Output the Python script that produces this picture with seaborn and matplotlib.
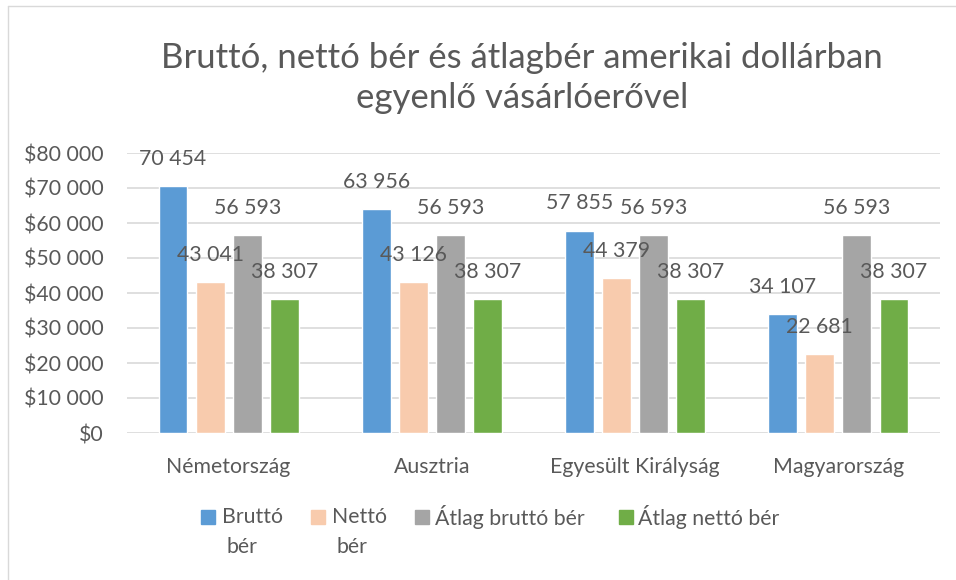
import matplotlib.pyplot as plt
import matplotlib.patches as mpatches
import matplotlib.lines as mlines
import seaborn as sns
import pandas as pd

# Chart data
countries = ["Németország", "Ausztria", "Egyesült Királyság", "Magyarország"]
series_names = ["Bruttó bér", "Nettó bér", "Átlag bruttó bér", "Átlag nettó bér"]
brutto = [70454, 63956, 57855, 34107]
netto = [43041, 43126, 44379, 22681]
atlag_brutto = [56593, 56593, 56593, 56593]
atlag_netto = [38307, 38307, 38307, 38307]
legend_labels = ["Bruttó\nbér", "Nettó\nbér", "Átlag bruttó bér", "Átlag nettó bér"]
title_text = "Bruttó, nettó bér és átlagbér amerikai dollárban\negyenlő vásárlóerővel"
yticks = [0, 10000, 20000, 30000, 40000, 50000, 60000, 70000, 80000]

colors = ["#5B9BD5", "#F8CBAD", "#A5A5A5", "#70AD47"]
text_color = "#595959"
grid_color = "#D9D9D9"
fs = 15.3

rows = []
for name, vals in zip(series_names, [brutto, netto, atlag_brutto, atlag_netto]):
    for c, v in zip(countries, vals):
        rows.append({"country": c, "series": name, "value": v})
df = pd.DataFrame(rows)

sns.set_theme(style="white")
plt.rcParams["font.family"] = ["Lato", "DejaVu Sans"]

fig = plt.figure(figsize=(9.56, 5.8), dpi=100)
ax = fig.add_axes([127 / 956, 1 - 433 / 580, (940 - 127) / 956, (433 - 153) / 580])

sns.barplot(data=df, x="country", y="value", hue="series", order=countries,
            hue_order=series_names, palette=colors, width=0.73, gap=0.22,
            saturation=1, legend=False, ax=ax)

ax.set_ylim(0, 80000)
ax.set_yticks(yticks)
ax.set_yticklabels(["$0" if t == 0 else "$" + f"{t:,}".replace(",", " ") for t in yticks])
ax.set_xlabel("")
ax.set_ylabel("")
ax.grid(axis="y", color=grid_color, linewidth=1.2)
ax.set_axisbelow(True)
for s in ax.spines.values():
    s.set_visible(False)
ax.tick_params(axis="y", length=0, pad=17, labelsize=fs, labelcolor=text_color)
ax.tick_params(axis="x", length=0, pad=17, labelsize=fs, labelcolor=text_color)

# data labels above bars
for cont in ax.containers:
    for bar in cont:
        h = bar.get_height()
        ax.annotate(f"{int(h):,}".replace(",", " "),
                    (bar.get_x() + bar.get_width() / 2, h),
                    xytext=(0, 19.5), textcoords="offset points",
                    ha="center", va="center", fontsize=fs, color=text_color)

fig.text(522 / 956, 1 - 78 / 580, title_text, ha="center", va="center",
         fontsize=25, color=text_color, linespacing=1.3)

# legend (wrapped like the original)
sq_w = 14 / 956
sq_h = 14 / 580
leg_items = [(201, 222), (311, 332), (415, 435), (619, 638)]
for (sx, tx), col, lab in zip(leg_items, colors, legend_labels):
    fig.add_artist(mpatches.Rectangle((sx / 956, 1 - 524 / 580), sq_w, sq_h,
                                      transform=fig.transFigure, color=col))
    lines = lab.split("\n")
    fig.text(tx / 956, 1 - 517 / 580, lines[0], ha="left", va="center",
             fontsize=fs, color=text_color)
    if len(lines) > 1:
        fig.text((tx + 4) / 956, 1 - 547 / 580, lines[1], ha="left", va="center",
                 fontsize=fs, color=text_color)

# chart frame
fig.add_artist(mlines.Line2D([8 / 956, 8 / 956], [0, 1 - 6 / 580], transform=fig.transFigure,
                             color=grid_color, linewidth=1))
fig.add_artist(mlines.Line2D([8 / 956, 1], [1 - 6 / 580, 1 - 6 / 580], transform=fig.transFigure,
                             color=grid_color, linewidth=1))

fig.savefig("out.png", dpi=100)
